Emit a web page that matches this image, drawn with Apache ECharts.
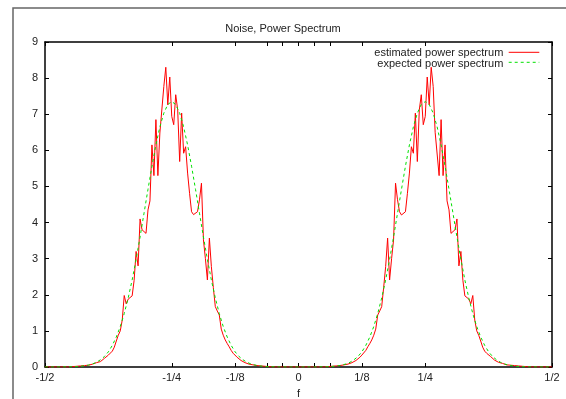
<!DOCTYPE html>
<html>
<head>
<meta charset="utf-8">
<script src="https://cdn.jsdelivr.net/npm/echarts@6/dist/echarts.min.js"></script>
<style>html,body{margin:0;padding:0;background:#fff}#c{width:566px;height:399px}</style>
</head>
<body>
<div id="c"></div>
<script>
const chartTitle = 'Noise, Power Spectrum';
const xAxisName = 'f';
const seriesNames = ['estimated power spectrum', 'expected power spectrum'];
const seriesColors = ['#ff0000', '#00e000'];
const xTickValues = [-0.5, -0.25, -0.125, -0.0625, -0.03125, 0, 0.03125, 0.0625, 0.125, 0.25, 0.5];
const xLabelValues = [-0.5, -0.25, -0.125, 0, 0.125, 0.25, 0.5];
const xLabelTexts = ['-1/2', '-1/4', '-1/8', '0', '1/8', '1/4', '1/2'];
const yMin = 0, yMax = 9, yStep = 1;
const fStart = -0.5;

// estimated power spectrum, sampled every 1/256 from f = -1/2 to 1/2
const estimatedStep = 1 / 256;
const estimated = [
  0,0,0,0,0,0,0,0,0,0,0,0,0,
  0.01,0.01,0.02,0.02,0.03,0.03,0.04,0.04,0.05,0.05,
  0.06,0.08,0.1,0.12,0.13,0.15,0.19,0.24,0.29,0.33,
  0.38,0.44,0.55,0.72,0.88,1.0,1.3,1.98,1.75,1.88,
  1.92,1.97,2.4,3.2,2.8,4.1,3.8,3.75,3.7,4.35,
  4.6,6.15,5.3,6.85,5.3,6.48,6.5,7.77,8.3,7.26,
  8.03,6.94,6.71,7.54,7.12,5.69,7.03,5.92,6.1,5.37,
  4.81,4.3,4.22,4.21,4.3,4.63,5.09,3.52,3.0,2.41,
  3.57,2.78,2.2,1.67,1.55,1.44,1.05,0.88,0.75,0.65,
  0.56,0.46,0.38,0.33,0.27,0.22,0.18,0.15,0.12,0.1,
  0.08,0.07,0.06,0.05,0.04,0.03,0.03,0.02,0.02,0.01,
  0.01,0,0,0,0,0,0,0,0,0,
  0,0,0,0,0,0,
  0,0,0,0,0,0,
  0,0,0,0,0,0,0,0,0.01,0.01,
  0.02,0.02,0.03,0.03,0.04,0.05,0.06,0.07,0.08,0.1,
  0.12,0.15,0.18,0.22,0.27,0.33,0.38,0.46,0.56,0.65,
  0.75,0.88,1.05,1.44,1.55,1.67,2.2,2.78,3.57,2.41,
  3.0,3.52,5.09,4.63,4.3,4.21,4.22,4.3,4.81,5.37,
  6.1,5.92,7.03,5.69,7.12,7.54,6.71,6.94,8.03,7.26,
  8.3,7.77,6.5,6.48,5.3,6.85,5.3,6.15,4.6,4.35,
  3.7,3.75,3.8,4.1,2.8,3.2,2.4,1.97,1.92,1.88,
  1.75,1.98,1.3,1.0,0.88,0.72,0.55,0.44,0.38,0.33,
  0.29,0.24,0.19,0.15,0.13,0.12,0.1,0.08,0.06,0.05,
  0.05,0.04,0.04,0.03,0.03,0.02,0.02,0.01,0.01,0,
  0,0,0,0,0,0,0,0,0,0,0,0
];

// expected power spectrum, sampled every 1/128 from f = -1/2 to 1/2
const expectedStep = 1 / 128;
const expected = [
  0,0,0,0,0.001,0.002,0.004,0.007,0.012,0.02,
  0.034,0.054,0.085,0.13,0.2,0.29,0.42,0.6,0.83,1.12,
  1.48,1.91,2.41,2.98,3.6,4.26,4.92,5.56,6.15,6.65,
  7.03,7.27,7.35,7.27,7.03,6.65,6.15,5.56,4.92,4.26,
  3.6,2.98,2.41,1.91,1.48,1.12,0.83,0.6,0.42,0.29,
  0.2,0.13,0.085,0.054,0.034,0.02,0.012,0.007,0.004,0.002,
  0.001,0,0,0,0,0,0,0,0.001,0.002,
  0.004,0.007,0.012,0.02,0.034,0.054,0.085,0.13,0.2,0.29,
  0.42,0.6,0.83,1.12,1.48,1.91,2.41,2.98,3.6,4.26,
  4.92,5.56,6.15,6.65,7.03,7.27,7.35,7.27,7.03,6.65,
  6.15,5.56,4.92,4.26,3.6,2.98,2.41,1.91,1.48,1.12,
  0.83,0.6,0.42,0.29,0.2,0.13,0.085,0.054,0.034,0.02,
  0.012,0.007,0.004,0.002,0.001,0,0,0,0
];

const FONT = '"Liberation Sans", Arial, Helvetica, sans-serif';
const toPairs = (vals, step) => vals.map((v, i) => [fStart + i * step, v]);
const labelFor = v => {
  const k = xLabelValues.findIndex(x => Math.abs(x - v) < 1e-9);
  return k >= 0 ? xLabelTexts[k] : '';
};

const axisLineStyle = { color: '#000', width: 1.5 };
const tickStyle = { color: '#000', width: 1 };
const lineDashes = [null, [3, 3]];
const legendTop = 42.3, legendRowH = 10;

const chart = echarts.init(document.getElementById('c'), null, { renderer: 'canvas' });
chart.setOption({
  animation: false,
  backgroundColor: '#fff',
  color: seriesColors,
  textStyle: { fontFamily: FONT },
  title: {
    text: chartTitle,
    left: 'center',
    top: 23,
    padding: [0, 0, 0, 29],
    textStyle: { fontSize: 11, fontWeight: 'normal', color: '#222', fontFamily: FONT }
  },
  legend: {
    orient: 'vertical',
    right: 21.7,
    top: legendTop,
    padding: 5,
    align: 'right',
    itemWidth: 31,
    itemHeight: legendRowH,
    itemGap: 0,
    selectedMode: false,
    icon: 'rect',
    itemStyle: { opacity: 0 },
    textStyle: { fontSize: 11, color: '#222', lineHeight: legendRowH, fontFamily: FONT },
    data: seriesNames
  },
  graphic: [{
    type: 'rect',
    shape: { x: 13, y: 8, width: 700, height: 600 },
    style: { fill: 'none', stroke: '#666', lineWidth: 1.5 },
    silent: true
  }].concat(seriesNames.map((n, i) => ({
    type: 'line', silent: true, z: 100,
    shape: { x1: 508.7, y1: legendTop + 5 + legendRowH * (i + 0.5), x2: 539.3, y2: legendTop + 5 + legendRowH * (i + 0.5) },
    style: { stroke: seriesColors[i], lineWidth: 1, lineDash: lineDashes[i] }
  }))),
  grid: { left: 45, right: 14, top: 42, bottom: 32, containLabel: false, outerBoundsMode: 'none' },
  xAxis: [{
    type: 'value', min: -0.5, max: 0.5, position: 'bottom',
    name: xAxisName, nameLocation: 'middle', nameGap: 21,
    nameTextStyle: { fontSize: 11, color: '#222', fontFamily: FONT },
    axisLine: { show: true, onZero: false, lineStyle: axisLineStyle },
    axisTick: { show: true, inside: true, length: 4, customValues: xTickValues, lineStyle: tickStyle },
    axisLabel: { show: true, customValues: xLabelValues, formatter: labelFor, fontSize: 11, color: '#222', margin: 5, fontFamily: FONT },
    splitLine: { show: false }
  }, {
    type: 'value', min: -0.5, max: 0.5, position: 'top',
    axisLine: { show: true, onZero: false, lineStyle: axisLineStyle },
    axisTick: { show: true, inside: true, length: 4, customValues: xTickValues, lineStyle: tickStyle },
    axisLabel: { show: false },
    splitLine: { show: false }
  }],
  yAxis: [{
    type: 'value', min: yMin, max: yMax, interval: yStep, position: 'left',
    axisLine: { show: true, onZero: false, lineStyle: axisLineStyle },
    axisTick: { show: true, inside: true, length: 4, lineStyle: tickStyle },
    axisLabel: { show: true, fontSize: 11, color: '#222', margin: 7, fontFamily: FONT },
    splitLine: { show: false }
  }, {
    type: 'value', min: yMin, max: yMax, interval: yStep, position: 'right',
    axisLine: { show: true, onZero: false, lineStyle: axisLineStyle },
    axisTick: { show: true, inside: true, length: 4, lineStyle: tickStyle },
    axisLabel: { show: false },
    splitLine: { show: false }
  }],
  series: [{
    name: seriesNames[0], type: 'line', xAxisIndex: 0, yAxisIndex: 0,
    data: toPairs(estimated, estimatedStep),
    symbol: 'none', showSymbol: false, silent: true,
    lineStyle: { color: seriesColors[0], width: 1 },
    itemStyle: { color: seriesColors[0] },
    emphasis: { disabled: true }
  }, {
    name: seriesNames[1], type: 'line', xAxisIndex: 0, yAxisIndex: 0,
    data: toPairs(expected, expectedStep),
    symbol: 'none', showSymbol: false, silent: true,
    lineStyle: { color: seriesColors[1], width: 1, type: lineDashes[1] },
    itemStyle: { color: seriesColors[1] },
    emphasis: { disabled: true }
  }]
});
</script>
</body>
</html>
